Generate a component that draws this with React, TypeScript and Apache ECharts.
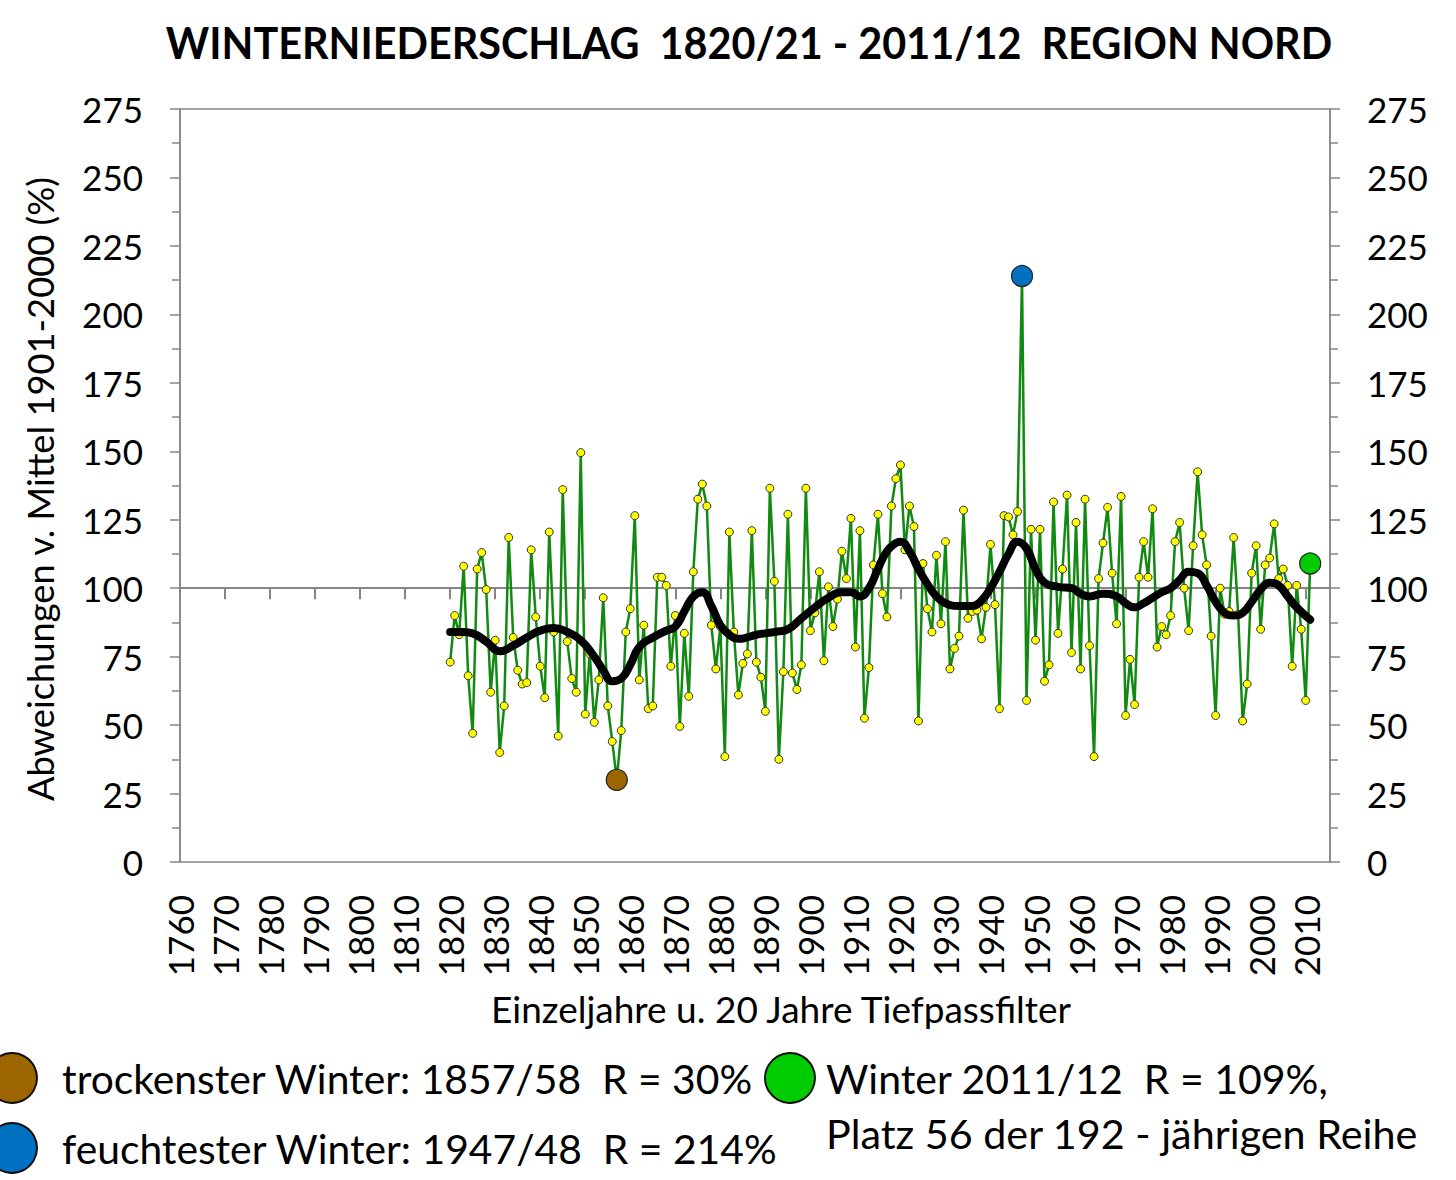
import React, { useEffect, useRef } from "react";
import * as echarts from "echarts";

// ---- data ----
const startYear = 1820;
const values1820s = [73, 90, 83, 108, 68, 47, 107, 113, 99.5, 62];
const values1830s = [81, 40, 57, 118.5, 82, 70, 65, 65.5, 114, 89.5];
const values1840s = [71.5, 60, 120.5, 84, 46, 136, 80.5, 67, 62, 149.5];
const values1850s = [54, 76, 51, 66.5, 96.5, 57, 44, 30, 48, 84];
const values1860s = [92.5, 126.5, 66.5, 86.5, 56, 57, 104, 104, 101, 71.5];
const values1870s = [90, 49.5, 83.5, 60.5, 106, 132.5, 138, 130, 86.5, 70.5];
const values1880s = [86, 38.5, 120.5, 84, 61, 72.5, 76, 121, 73, 67.5];
const values1890s = [55, 136.5, 102.5, 37.5, 69.5, 127, 69, 63, 72, 136.5];
const values1900s = [84.5, 91, 106, 73.5, 100.5, 86, 96, 113.5, 103.5, 125.5];
const values1910s = [78.5, 121, 52.5, 71, 108.5, 127, 98, 89.5, 130, 140];
const values1920s = [145, 114, 130, 122.5, 51.5, 109, 92.5, 84, 112, 87];
const values1930s = [117, 70.5, 78, 82.5, 128.5, 89, 91.5, 92, 81.5, 93];
const values1940s = [116, 94, 56, 126.5, 126, 119.5, 128, 214, 59, 121.5];
const values1950s = [81, 121.5, 66, 72, 131.5, 83.5, 107, 134, 76.5, 124];
const values1960s = [70.5, 132.5, 79, 38.5, 103.5, 116.5, 129.5, 105.5, 87, 133.5];
const values1970s = [53.5, 74, 57.5, 104, 117, 104, 129, 78.5, 86, 83];
const values1980s = [90, 117, 124, 100, 84.5, 115.5, 142.5, 119.5, 108.5, 82.5];
const values1990s = [53.5, 100, 90.5, 91.5, 118.5, 90.5, 51.5, 65, 105.5, 115.5];
const values2000s = [85, 108.5, 111, 123.5, 103.5, 107, 101, 71.5, 101, 85];
const values2010s = [59, 109];

const winterValues = [
  ...values1820s, ...values1830s, ...values1840s, ...values1850s, ...values1860s,
  ...values1870s, ...values1880s, ...values1890s, ...values1900s, ...values1910s,
  ...values1920s, ...values1930s, ...values1940s, ...values1950s, ...values1960s,
  ...values1970s, ...values1980s, ...values1990s, ...values2000s, ...values2010s,
];

// 20-year low-pass filter
const filterYears = [
  1820, 1823, 1825, 1828, 1831, 1834, 1837, 1840, 1843, 1846, 1849, 1852, 1854, 1856, 1858,
  1860, 1862, 1865, 1868, 1870, 1872, 1874, 1876, 1878, 1880, 1882, 1884, 1886, 1888, 1890,
  1892, 1895, 1898, 1901, 1904, 1907, 1909, 1911, 1913, 1915, 1917, 1919, 1920, 1922, 1924,
  1926, 1928, 1930, 1933, 1936, 1938, 1940, 1942, 1944, 1946, 1948, 1950, 1952, 1955, 1958,
  1960, 1962, 1965, 1968, 1970, 1972, 1974, 1976, 1978, 1980, 1982, 1984, 1986, 1988, 1990,
  1992, 1994, 1996, 1998, 2000, 2002, 2004, 2006, 2008, 2011,
];
const filterValues = [
  84, 84, 83.5, 80.5, 77, 79, 82, 84.5, 85.5, 84, 81, 75, 70, 66, 67,
  72, 78.5, 82, 84.5, 86, 91.5, 97, 98.5, 93.5, 86.5, 83, 81.5, 82, 83, 83.5,
  84, 85, 89, 93, 96.5, 98.5, 98.5, 97, 100, 107, 113.5, 116.5, 117, 113.5, 107,
  101.5, 97, 94.5, 93.5, 93.5, 95.5, 100, 106, 112.5, 117, 114.5, 107, 102, 100.5, 100,
  98, 97, 98, 97, 94.5, 93, 94.5, 96.5, 98.5, 100, 103, 106, 105.5, 101, 95,
  91, 90, 91, 95, 99.5, 102, 101, 97, 93, 88.5,
];

const highlightYears = [1857, 1947, 2011];
const highlightColors = ["#9c6500", "#0070c0", "#00cc00"];

const yTicks = { min: 0, max: 275, interval: 25 };
const xRange = { min: 1760, max: 2015.4, interval: 10 };

const titleText = "WINTERNIEDERSCHLAG  1820/21 - 2011/12  REGION NORD";
const yAxisTitle = "Abweichungen v. Mittel 1901-2000 (%)";
const xAxisTitle = "Einzeljahre u. 20 Jahre Tiefpassfilter";
const legendDry = "trockenster Winter: 1857/58  R = 30%";
const legendWet = "feuchtester Winter: 1947/48  R = 214%";
const legendNow1 = "Winter 2011/12  R = 109%,";
const legendNow2 = "Platz 56 der 192 - jährigen Reihe";

const FONT = "Lato";
const GRAY = "#868686";

export default function App() {
  const ref = useRef<HTMLDivElement>(null);
  useEffect(() => {
    if (!ref.current) return;
    const chart = echarts.init(ref.current, undefined, { renderer: "svg" });
    const grid = { left: 180, top: 109, width: 1150, height: 753 };
    const seriesData = winterValues.map((v, i) => [startYear + i, v]);
    const filterData = filterYears.map((y, i) => [y, filterValues[i]]);
    const highlightData = highlightYears.map((y, i) => ({
      value: [y, winterValues[y - startYear]],
      itemStyle: { color: highlightColors[i], borderColor: "#222", borderWidth: 1.2, opacity: 1 },
    }));
    const lineOffset = -(grid.height * (100 - yTicks.min)) / (yTicks.max - yTicks.min);

    const yAxisCommon = {
      type: "value",
      min: yTicks.min,
      max: yTicks.max,
      interval: yTicks.interval,
      splitLine: { show: false },
      axisLine: { show: true, lineStyle: { color: GRAY, width: 1.5 } },
      axisTick: { show: true, length: 10, lineStyle: { color: GRAY, width: 1.5 } },
      minorTick: { show: true, splitNumber: 2, length: 8, lineStyle: { color: GRAY, width: 1.5 } },
      axisLabel: { fontFamily: FONT, fontSize: 35, color: "#000", margin: 37 },
    };

    const textStyle = (text: string, size: number, align = "left") => ({
      text,
      fontFamily: FONT,
      fontSize: size,
      fill: "#000",
      textAlign: align,
      textVerticalAlign: "middle",
    });

    const option = {
      animation: false,
      backgroundColor: "#fff",
      grid: { ...grid, show: true, borderColor: GRAY, borderWidth: 1.5 },
      xAxis: [
        {
          type: "value",
          min: xRange.min,
          max: xRange.max,
          interval: xRange.interval,
          position: "bottom",
          splitLine: { show: false },
          axisLine: { show: false },
          axisTick: { show: false },
          axisLabel: {
            rotate: 90,
            fontFamily: FONT,
            fontSize: 35,
            color: "#000",
            margin: 33,
            showMaxLabel: false,
            formatter: (v: number) => (v % 10 === 0 ? String(v) : ""),
          },
        },
        {
          type: "value",
          min: xRange.min,
          max: xRange.max,
          interval: xRange.interval,
          position: "bottom",
          offset: lineOffset,
          splitLine: { show: false },
          axisLine: { show: true, lineStyle: { color: GRAY, width: 2 } },
          axisTick: { show: true, length: 11, lineStyle: { color: GRAY, width: 2 } },
          axisLabel: { show: false },
        },
      ],
      yAxis: [
        { ...yAxisCommon, position: "left" },
        { ...yAxisCommon, position: "right" },
      ],
      series: [
        {
          type: "line",
          data: seriesData,
          xAxisIndex: 0,
          yAxisIndex: 0,
          z: 2,
          symbol: "circle",
          symbolSize: 8,
          showAllSymbol: true,
          lineStyle: { color: "#128a12", width: 2.5 },
          itemStyle: { color: "#ffff00", borderColor: "#333", borderWidth: 1 },
        },
        {
          type: "line",
          data: filterData,
          z: 3,
          smooth: 0.5,
          symbol: "none",
          lineStyle: { color: "#000", width: 8, cap: "round" },
        },
        {
          type: "scatter",
          data: highlightData,
          z: 5,
          symbol: "circle",
          symbolSize: 21,
          itemStyle: { opacity: 1 },
        },
      ],
      graphic: [
        {
          type: "text",
          x: 749,
          y: 42,
          scaleX: 0.94,
          style: { ...textStyle(titleText, 44, "center"), fontWeight: "bold" },
        },
        {
          type: "text",
          x: 40,
          y: 489,
          rotation: Math.PI / 2,
          style: textStyle(yAxisTitle, 36.3, "center"),
        },
        {
          type: "text",
          x: 781,
          y: 1008,
          style: textStyle(xAxisTitle, 37, "center"),
        },
        { type: "circle", shape: { cx: 12, cy: 1078, r: 25 }, style: { fill: highlightColors[0], stroke: "#111", lineWidth: 2 } },
        { type: "circle", shape: { cx: 12, cy: 1148, r: 25 }, style: { fill: highlightColors[1], stroke: "#111", lineWidth: 2 } },
        { type: "circle", shape: { cx: 790, cy: 1078, r: 25 }, style: { fill: highlightColors[2], stroke: "#111", lineWidth: 2 } },
        { type: "text", x: 62, y: 1078, style: textStyle(legendDry, 40.8) },
        { type: "text", x: 62, y: 1148, style: textStyle(legendWet, 40.8) },
        { type: "text", x: 826, y: 1078, style: textStyle(legendNow1, 41) },
        { type: "text", x: 826, y: 1133, style: textStyle(legendNow2, 41.3) },
      ],
    };
    chart.setOption(option as any);
    return () => chart.dispose();
  }, []);
  return (
    <div
      ref={ref}
      style={{ position: "fixed", left: 0, top: 0, width: 1456, height: 1180, background: "#fff" }}
    />
  );
}
